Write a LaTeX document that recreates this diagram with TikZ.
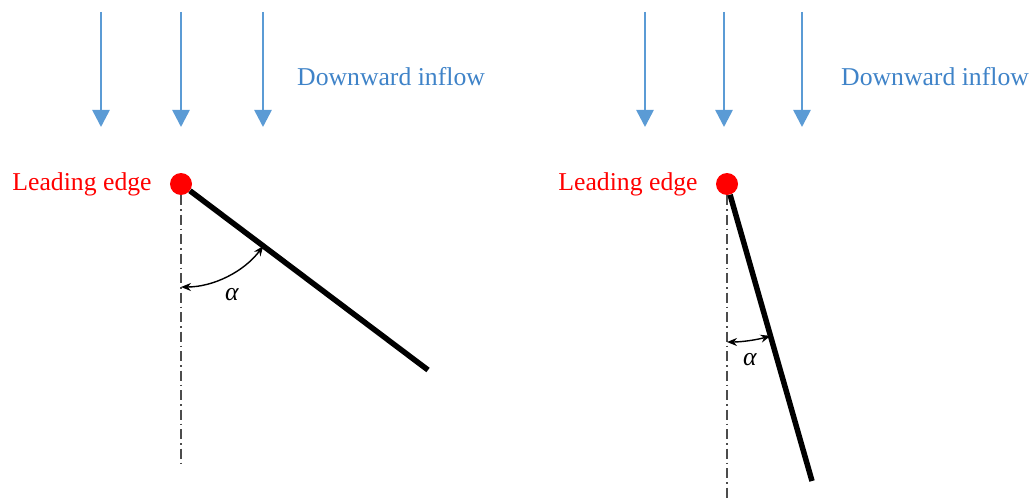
\documentclass[tikz,border=0pt]{standalone}
\usepackage{fontspec}
\setmainfont{Liberation Serif}
\usepackage{xcolor}
\usetikzlibrary{arrows.meta, positioning}
\definecolor{flowblue}{HTML}{5B9BD5}
\definecolor{flowtext}{HTML}{3F83C8}

\begin{document}
\begin{tikzpicture}[
			x=1pt, y=1pt,
			node distance=18pt,
			inflow/.style={draw=flowblue, line width=2.6pt, -{Triangle[width=17pt, length=17pt]}},
			blade/.style={line width=5.5pt},
			chordaxis/.style={draw=black!70, line width=1.2pt, dash pattern=on 10pt off 4pt on 1.5pt off 4pt},
			ledot/.style={circle, fill=red, inner sep=0pt, minimum size=22pt},
			lbl/.style={inner sep=0pt, font=\fontsize{25.7}{30}\selectfont},
			angarr/.style={{Stealth[length=10pt, width=8pt]}-{Stealth[length=10pt, width=8pt]}, line width=1.4pt}
		]
			\useasboundingbox (0,0) rectangle (1032,499);
			% left case: large angle
			\foreach \x [count=\i] in {101,181,263} {
				\coordinate (inL\i) at (\x,487); \coordinate (outL\i) at (\x,372);
				\draw[inflow] (inL\i) -- (outL\i);
			}
			\node[lbl, text=flowtext, anchor=west] (flowL) at (297,422) {Downward inflow};
			\node[ledot] (leL) at (181,315) {};
			\node[lbl, text=red, left=of leL] (edgeL) {Leading edge};
			\coordinate (axL) at (181,32);
			\coordinate (teL) at (428,129);
			\draw[chordaxis] (leL.south) -- (axL);
			\draw[blade] (leL) -- (teL);
			\draw[angarr] ([shift={(323:103)}]leL.center) arc[start angle=323, end angle=270, radius=103];
			\node[lbl] (alphaL) at (232,204) {\textit{α}};
			% right case: small angle
			\foreach \x [count=\i] in {645,724,802} {
				\coordinate (inR\i) at (\x,487); \coordinate (outR\i) at (\x,372);
				\draw[inflow] (inR\i) -- (outR\i);
			}
			\node[lbl, text=flowtext, anchor=west] (flowR) at (841,422) {Downward inflow};
			\node[ledot] (leR) at (727,315) {};
			\node[lbl, text=red, left=of leR] (edgeR) {Leading edge};
			\coordinate (axR) at (727,0);
			\coordinate (teR) at (812,18);
			\draw[chordaxis] (leR.south) -- (axR);
			\draw[blade] (leR) -- (teR);
			\draw[angarr] ([shift={(286:158)}]leR.center) arc[start angle=286, end angle=270, radius=158];
			\node[lbl] (alphaR) at (750,139) {\textit{α}};
		\end{tikzpicture}
\end{document}
